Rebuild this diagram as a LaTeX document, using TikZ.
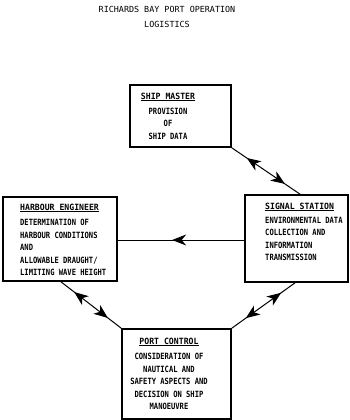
\documentclass[tikz,border=0pt]{standalone}
\usepackage{fontspec}
\usetikzlibrary{arrows.meta,decorations.markings}
\newfontfamily\bodyf[FakeStretch=0.83]{DejaVu Sans Mono}
\newfontfamily\headf[FakeStretch=0.95]{DejaVu Sans Mono}
\newfontfamily\titlef{DejaVu Sans Mono}
\newcommand{\hd}[1]{{\headf\bfseries\underline{#1}}}
\begin{document}
\begin{tikzpicture}[x=1pt,y=-1pt,
  boxnode/.style={draw,line width=1.7pt,rectangle,inner sep=0pt},
  txt/.style={inner sep=0pt,font=\bodyf\bfseries\fontsize{8.6}{12.5}\selectfont},
  conn/.style={line width=1pt},
  dblarr/.style={conn,postaction={decorate},decoration={markings,
     mark=at position #1 with {\arrowreversed{Stealth[length=14pt,width=11pt,inset=4pt]}},
     mark=at position 0.78 with {\arrow{Stealth[length=14pt,width=11pt,inset=4pt]}}}},
  midarr/.style={conn,postaction={decorate},decoration={markings,
     mark=at position #1 with {\arrow{Stealth[length=14pt,width=11pt,inset=4.5pt]}}}}
]
\useasboundingbox (0,0) rectangle (350,420);

\node[inner sep=0pt,anchor=north,align=center,font=\titlef\fontsize{8.4}{15}\selectfont] (title) at (167,6.5)
  {RICHARDS BAY PORT OPERATION\\LOGISTICS};

\node[boxnode,minimum width=101pt,minimum height=62pt] (ship) at (180.5,116) {};
\node[boxnode,minimum width=114pt,minimum height=84pt] (harb) at (60,239) {};
\node[boxnode,minimum width=103pt,minimum height=87pt] (sig) at (296.5,238.5) {};
\node[boxnode,minimum width=109pt,minimum height=90pt] (port) at (176.5,374) {};

\node[txt,anchor=north,align=center] (shiptxt) at (168,92.5)
  {\hd{SHIP MASTER}\\[2.5pt]PROVISION\\OF\\SHIP DATA};
\node[txt,anchor=north west,align=left] (harbtxt) at (20,203.5)
  {\hd{HARBOUR ENGINEER}\\[3pt]DETERMINATION OF\\HARBOUR CONDITIONS\\AND\\ALLOWABLE DRAUGHT/\\LIMITING WAVE HEIGHT};
\node[txt,anchor=north west,align=left] (sigtxt) at (265,202.5)
  {\hd{SIGNAL STATION}\\[1.5pt]ENVIRONMENTAL DATA\\COLLECTION AND\\INFORMATION\\TRANSMISSION};
\node[txt,anchor=north,align=center] (porttxt) at (169,337.5)
  {\hd{PORT CONTROL}\\[3pt]CONSIDERATION OF\\NAUTICAL AND\\SAFETY ASPECTS AND\\DECISION ON SHIP\\MANOEUVRE};

\draw[dblarr=0.22] (ship.south east) -- ([xshift=3.5pt]sig.north);
\draw[dblarr=0.22] ([xshift=-1.5pt]sig.south) -- (port.north east);
\draw[dblarr=0.22] ([xshift=1pt]harb.south) -- (port.north west);
\draw[midarr=0.57] ([yshift=-1.5pt]sig.west) -- ([yshift=-1.5pt]sig.west -| harb.east);
\end{tikzpicture}
\end{document}
